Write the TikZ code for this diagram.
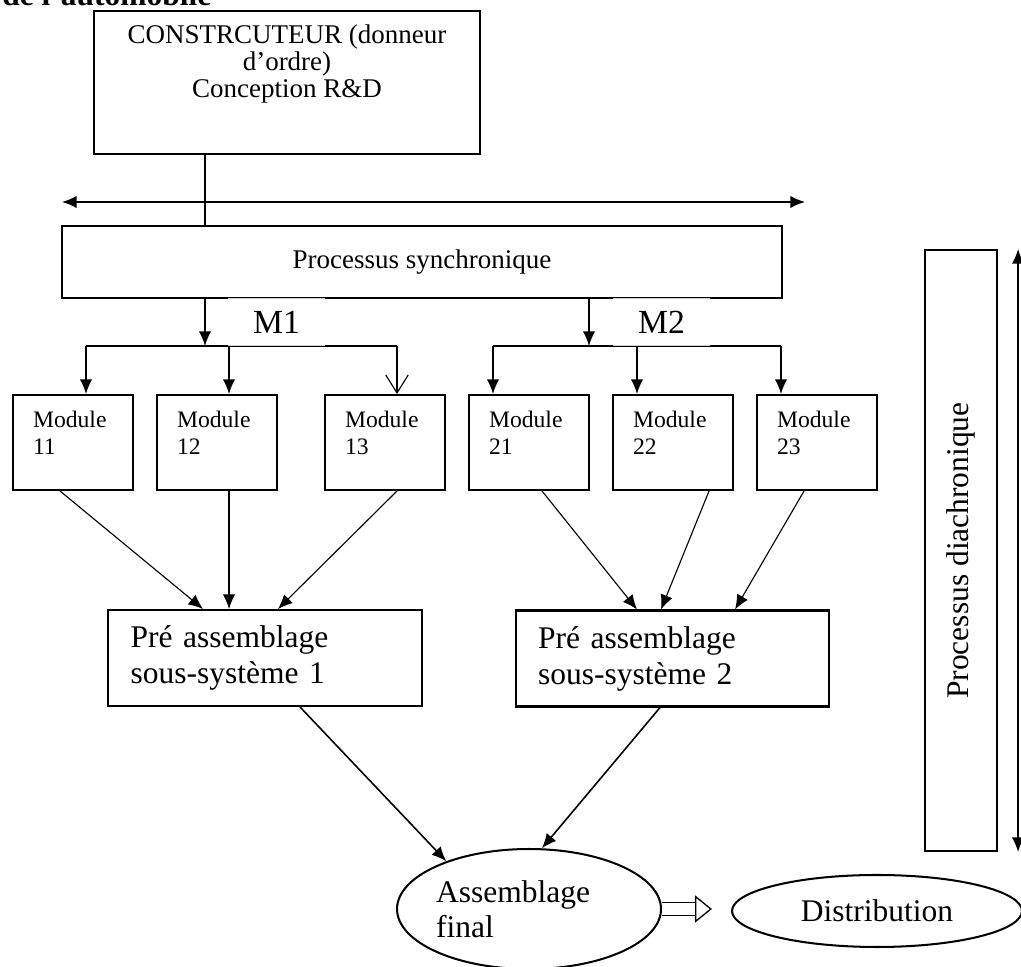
\documentclass[tikz,border=0pt]{standalone}
\usepackage{fontspec}
\setmainfont{Liberation Serif}
\usetikzlibrary{arrows.meta,shapes.geometric}

\tikzset{
	boite/.style={draw, line width=0.9pt, inner sep=0pt},
	module/.style={boite, minimum width=1.875cm, minimum height=1.484cm, text width=1.25cm, align=left, font=\fontsize{10.5}{12}\selectfont},
	pre/.style={boite, minimum height=1.5cm, text width=4.2cm, inner xsep=0.35cm, align=left, font=\fontsize{14}{16}\selectfont},
	ovale/.style={draw, ellipse, line width=0.9pt, inner sep=0pt, font=\fontsize{14}{15.5}\selectfont},
	etiq/.style={fill=white, fill opacity=0.8, text opacity=1, minimum width=1.516cm, minimum height=0.75cm, font=\fontsize{15}{17}\selectfont},
	fl/.style={->, >={Latex[length=6.5pt, width=5.5pt]}, line width=0.7pt},
	fin/.style={->, >={Latex[length=6.5pt, width=5.5pt]}, line width=0.5pt},
}

\begin{document}
\begin{tikzpicture}
	\useasboundingbox (0,0) rectangle (15.953,-15.094);
	\node[anchor=base west, inner sep=0pt, font=\fontsize{14}{16}\selectfont\bfseries] (titre) at (0.03,-0.08) {de l’automobile};

	% haut
	\node[boite, minimum width=6.031cm, minimum height=2.234cm, align=center, font=\fontsize{12}{12}\selectfont] (c) at (4.484,-1.289) {CONSTRCUTEUR (donneur\\ d’ordre)\\ Conception R\&D\\[7pt]\mbox{}};
	\node[boite, minimum width=11.25cm, minimum height=1.125cm, font=\fontsize{12}{14}\selectfont] (s) at (6.594,-4.094) {Processus synchronique};
	\coordinate (g) at (0.969,-3.156);
	\coordinate (h) at (12.578,-3.156);
	\coordinate (j1) at (3.203,-5.406);
	\coordinate (j2) at (9.203,-5.406);
	\draw[fl, <->] (g) -- (h);
	\draw[line width=0.7pt] (c.south -| j1) -- (s.north -| j1);

	% modules
	\node[module] (11) at (1.141,-6.914) {Module\\11\\[-3.2pt]\mbox{}};
	\node[module] (12) at (3.391,-6.914) {Module\\12\\[-3.2pt]\mbox{}};
	\node[module] (13) at (6.016,-6.914) {Module\\13\\[-3.2pt]\mbox{}};
	\node[module] (21) at (8.266,-6.914) {Module\\21\\[-3.2pt]\mbox{}};
	\node[module] (22) at (10.516,-6.914) {Module\\22\\[-3.2pt]\mbox{}};
	\node[module] (23) at (12.766,-6.914) {Module\\23\\[-3.2pt]\mbox{}};

	\coordinate (b11) at (1.344,-5.406);
	\coordinate (b12) at (3.578,-5.406);
	\coordinate (b13) at (6.203,-5.406);
	\coordinate (b21) at (7.703,-5.406);
	\coordinate (b22) at (9.953,-5.406);
	\coordinate (b23) at (12.203,-5.406);

	\draw[fl] (s.south -| j1) -- (j1);
	\draw[fl] (s.south -| j2) -- (j2);
	\draw[line width=0.7pt] (b11) -- (b13);
	\draw[line width=0.7pt] (b21) -- (b23);
	\draw[fl] (b11) -- (b11 |- 11.north);
	\draw[fl] (b12) -- (b12 |- 12.north);
	\draw[line width=0.7pt, -{Straight Barb[length=8pt, width=10pt, line width=0.5pt]}] (b13) -- (b13 |- 13.north);
	\draw[fl] (b21) -- (b21 |- 21.north);
	\draw[fl] (b22) -- (b22 |- 22.north);
	\draw[fl] (b23) -- (b23 |- 23.north);
	\node[etiq] (m1) at (4.32,-5.031) {M1};
	\node[etiq] (m2) at (10.336,-5.031) {M2};

	% pre assemblage
	\node[pre] (p1) at (4.141,-10.281) {Pré assemblage\\ sous-système 1};
	\node[pre] (p2) at (10.508,-10.289) {Pré assemblage\\ sous-système 2};
	\draw[fin] ([xshift=-0.203cm]11.south) -- ([xshift=-0.969cm]p1.north);
	\draw[fin] ([xshift=0.1875cm]12.south) -- ([xshift=-0.5625cm]p1.north);
	\draw[fin] ([xshift=0.1875cm]13.south) -- ([xshift=0.203cm]p1.north);
	\draw[fin] ([xshift=0.203cm]21.south) -- ([xshift=-0.555cm]p2.north);
	\draw[fin] ([xshift=0.5625cm]22.south) -- ([xshift=-0.18cm]p2.north);
	\draw[fin] ([xshift=-0.203cm]23.south) -- ([xshift=0.977cm]p2.north);

	% bas
	\node[ovale, minimum width=4.125cm, minimum height=1.875cm, text width=2.9cm, align=left] (a) at (8.266,-14.203) {Assemblage\\ final};
	\node[ovale, minimum width=4.531cm, minimum height=1.125cm] (f) at (13.703,-14.234) {Distribution};
	\draw[fl] ([xshift=0.547cm]p1.south) -- (a.150);
	\draw[fl] ([xshift=-0.195cm]p2.south) -- (a.78);
	\draw[double, double distance=5pt, line width=0.6pt, -{Triangle[open, length=7.5pt, width=12pt]}] (a.east) -- ++(0.78,0);

	% droite
	\node[boite, rotate=90, minimum width=9.391cm, minimum height=1.125cm, font=\fontsize{14}{16}\selectfont] (d) at (15.016,-8.602) {Processus diachronique};
	\draw[fl, <->] ([xshift=0.891cm]d.east) -- ([xshift=0.891cm]d.west);
\end{tikzpicture}
\end{document}
